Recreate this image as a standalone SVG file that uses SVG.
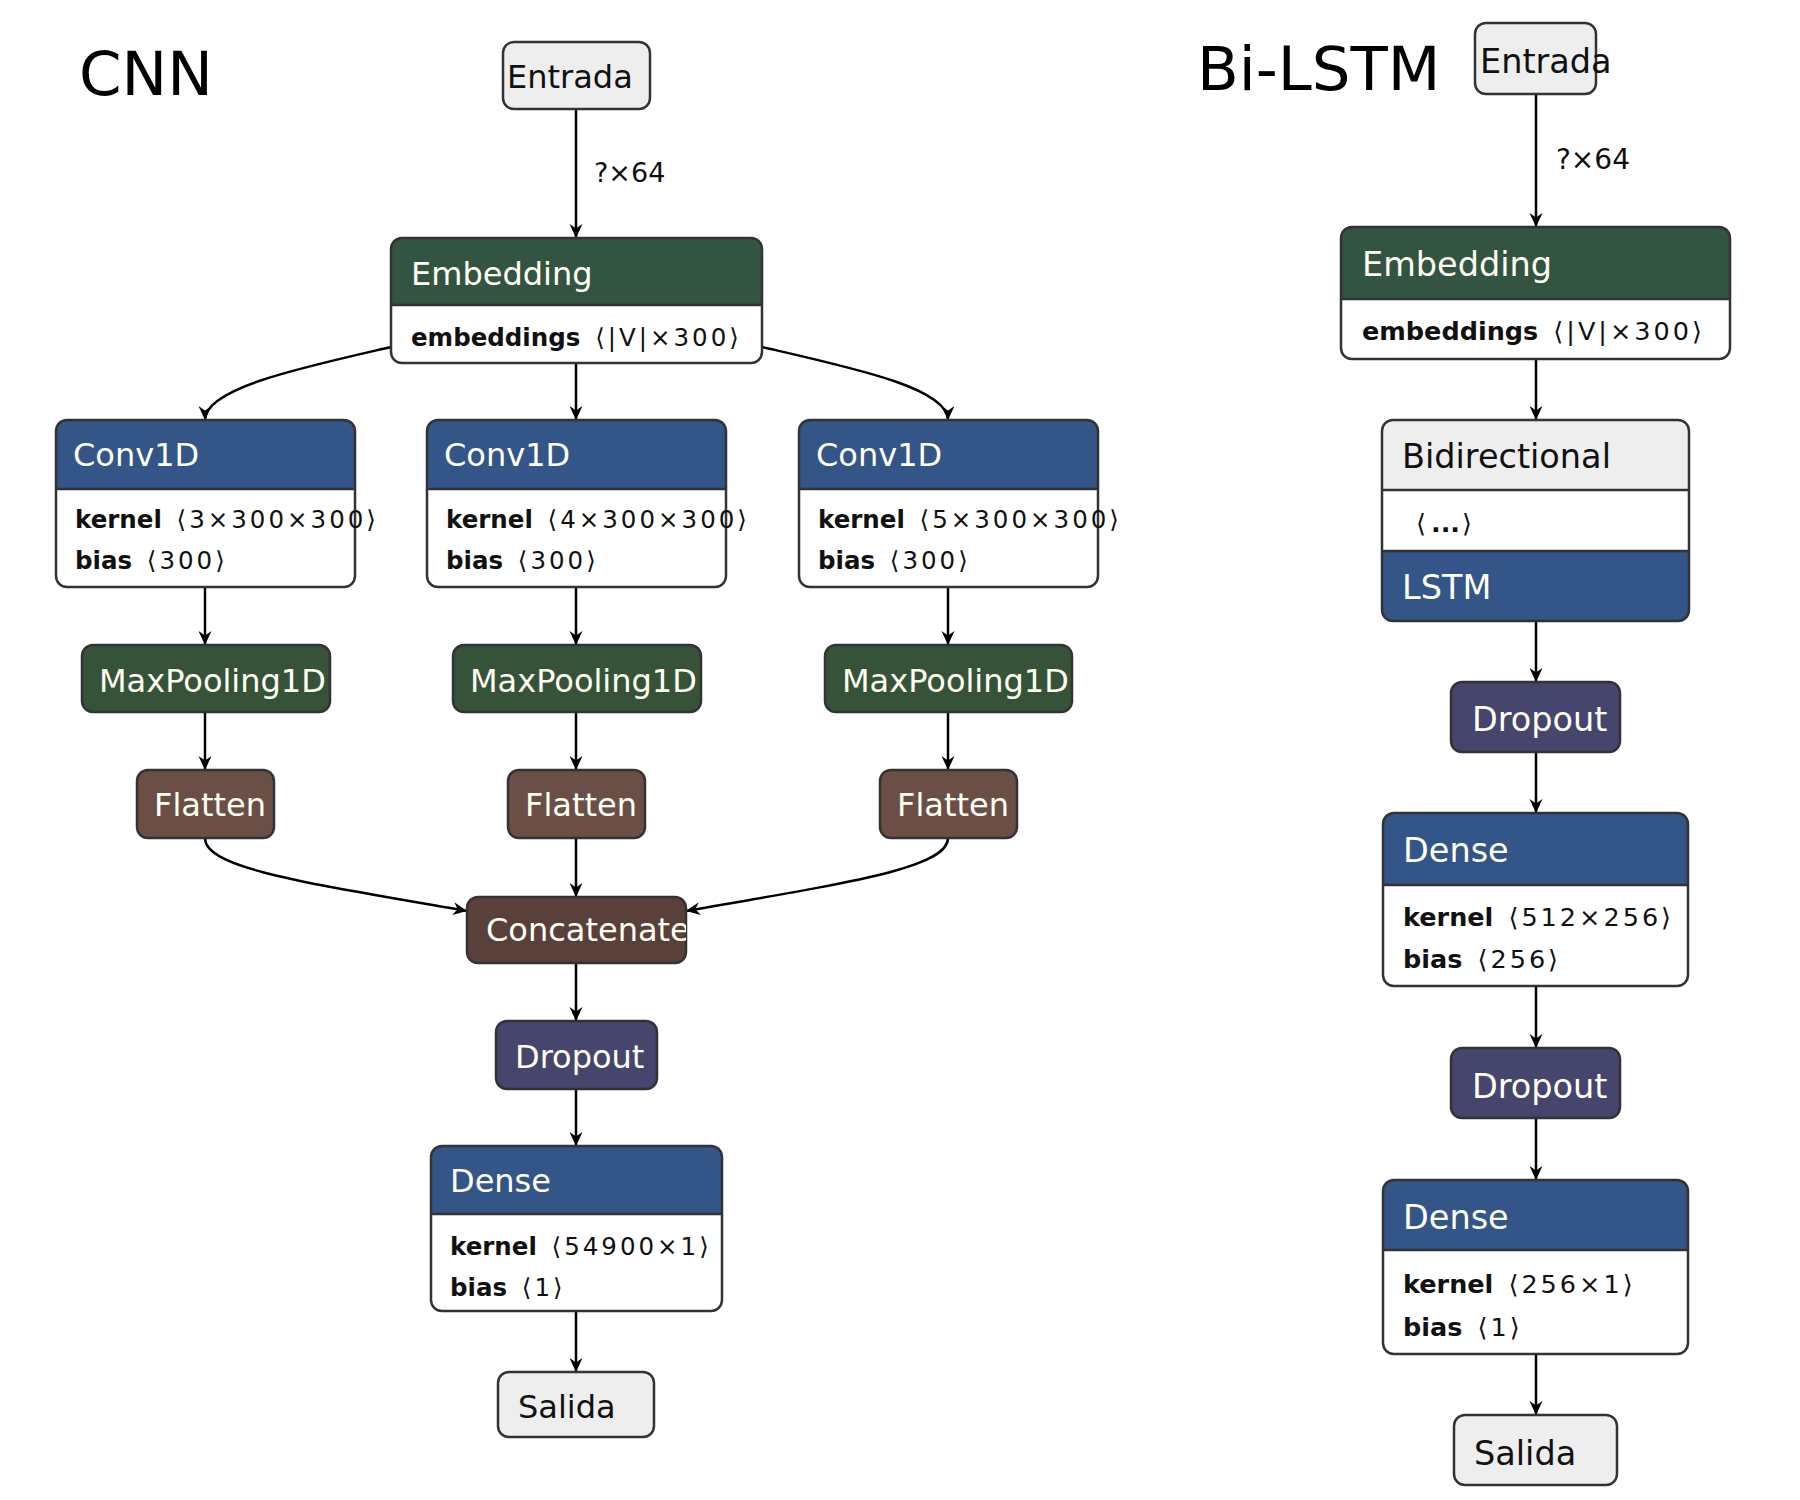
<svg xmlns="http://www.w3.org/2000/svg" width="1800" height="1500" viewBox="0 0 1800 1500">
<style>
text{font-family:"DejaVu Sans","Liberation Sans",sans-serif;}
.title{font-size:61px;fill:#000;}
.lbl{font-size:32px;fill:#fffff4;}
.lblR{font-size:33.5px;fill:#fffff4;}
.dark{fill:#111;}
.attr{font-size:24.5px;fill:#111;}
.attrR{font-size:25.5px;fill:#111;}
.b{font-weight:bold;letter-spacing:0;}
.sp{letter-spacing:3px;}
.edge{font-size:27px;fill:#111;}
.box{stroke:#333;stroke-width:2.5;}
.outline{fill:none;stroke:#333;stroke-width:2.5;}
.div{stroke:#333;stroke-width:2.5;}
.gray{fill:#eeeeee;}
.green{fill:#335440;}
.pool{fill:#36533a;}
.blue{fill:#335587;}
.brown{fill:#6b4f47;}
.cat{fill:#5a403a;}
.drop{fill:#45456d;}
.conn path,.conn line{stroke:#000;stroke-width:2.5;fill:none;marker-end:url(#vee);}
</style>
<defs>
<marker id="vee" markerWidth="16" markerHeight="16" refX="14" refY="8" orient="auto" markerUnits="userSpaceOnUse">
<path d="M0,1.5 L14,8 L0,14.5 L4.5,8 Z" fill="#000"/>
</marker>
<clipPath id="catclip"><rect x="467" y="897" width="219" height="66" rx="11"/></clipPath>
</defs>
<rect width="1800" height="1500" fill="#fff"/>

<text class="title" x="79" y="95">CNN</text>
<text class="title" x="1197" y="90">Bi-LSTM</text>

<g class="conn">
<line x1="576" y1="109" x2="576" y2="238"/>
<path d="M391,347 C300,368 205,388 205,420"/>
<line x1="576" y1="363" x2="576" y2="420"/>
<path d="M762,347 C853,368 948,388 948,420"/>
<line x1="205" y1="587" x2="205" y2="645"/>
<line x1="576" y1="587" x2="576" y2="645"/>
<line x1="948" y1="587" x2="948" y2="645"/>
<line x1="205" y1="712" x2="205" y2="770"/>
<line x1="576" y1="712" x2="576" y2="770"/>
<line x1="948" y1="712" x2="948" y2="770"/>
<path d="M205,838 C205,868 300,882 467,911"/>
<line x1="576" y1="838" x2="576" y2="897"/>
<path d="M948,838 C948,868 852,882 686,911"/>
<line x1="576" y1="963" x2="576" y2="1021"/>
<line x1="576" y1="1089" x2="576" y2="1146"/>
<line x1="576" y1="1311" x2="576" y2="1372"/>
<line x1="1536" y1="94" x2="1536" y2="227"/>
<line x1="1536" y1="359" x2="1536" y2="420"/>
<line x1="1536" y1="621" x2="1536" y2="682"/>
<line x1="1536" y1="752" x2="1536" y2="813"/>
<line x1="1536" y1="986" x2="1536" y2="1048"/>
<line x1="1536" y1="1118" x2="1536" y2="1180"/>
<line x1="1536" y1="1354" x2="1536" y2="1415"/>
</g>
<text class="edge" x="594" y="182">?×64</text>
<text class="edge" x="1556" y="169" style="font-size:28px">?×64</text>

<!-- CNN nodes -->
<g id="cnn-entrada">
<rect class="box gray" x="503" y="42" width="147" height="67" rx="11"/>
<text class="lbl dark" x="507" y="88">Entrada</text>
</g>
<g id="cnn-embedding">
<rect x="391" y="238" width="371" height="125" rx="11" fill="#fff"/>
<path class="green" d="M391,305 L391,249 Q391,238 402,238 L751,238 Q762,238 762,249 L762,305 Z"/>
<line class="div" x1="391" y1="305" x2="762" y2="305"/>
<rect class="outline" x="391" y="238" width="371" height="125" rx="11"/>
<text class="lbl" x="411" y="285">Embedding</text>
<text class="attr" x="411" y="346"><tspan class="b">embeddings</tspan><tspan class="sp" dx="4"> ⟨|V|×300⟩</tspan></text>
</g>
<g id="cnn-conv1">
<rect x="56" y="420" width="299" height="167" rx="11" fill="#fff"/>
<path class="blue" d="M56,489 L56,431 Q56,420 67,420 L344,420 Q355,420 355,431 L355,489 Z"/>
<line class="div" x1="56" y1="489" x2="355" y2="489"/>
<rect class="outline" x="56" y="420" width="299" height="167" rx="11"/>
<text class="lbl" x="73" y="466">Conv1D</text>
<text class="attr" x="75" y="528"><tspan class="b">kernel</tspan><tspan class="sp" dx="4"> ⟨3×300×300⟩</tspan></text>
<text class="attr" x="75" y="569"><tspan class="b">bias</tspan><tspan class="sp" dx="4"> ⟨300⟩</tspan></text>
</g>
<g id="cnn-conv2">
<rect x="427" y="420" width="299" height="167" rx="11" fill="#fff"/>
<path class="blue" d="M427,489 L427,431 Q427,420 438,420 L715,420 Q726,420 726,431 L726,489 Z"/>
<line class="div" x1="427" y1="489" x2="726" y2="489"/>
<rect class="outline" x="427" y="420" width="299" height="167" rx="11"/>
<text class="lbl" x="444" y="466">Conv1D</text>
<text class="attr" x="446" y="528"><tspan class="b">kernel</tspan><tspan class="sp" dx="4"> ⟨4×300×300⟩</tspan></text>
<text class="attr" x="446" y="569"><tspan class="b">bias</tspan><tspan class="sp" dx="4"> ⟨300⟩</tspan></text>
</g>
<g id="cnn-conv3">
<rect x="799" y="420" width="299" height="167" rx="11" fill="#fff"/>
<path class="blue" d="M799,489 L799,431 Q799,420 810,420 L1087,420 Q1098,420 1098,431 L1098,489 Z"/>
<line class="div" x1="799" y1="489" x2="1098" y2="489"/>
<rect class="outline" x="799" y="420" width="299" height="167" rx="11"/>
<text class="lbl" x="816" y="466">Conv1D</text>
<text class="attr" x="818" y="528"><tspan class="b">kernel</tspan><tspan class="sp" dx="4"> ⟨5×300×300⟩</tspan></text>
<text class="attr" x="818" y="569"><tspan class="b">bias</tspan><tspan class="sp" dx="4"> ⟨300⟩</tspan></text>
</g>
<g id="cnn-pool1">
<rect class="box pool" x="82" y="645" width="248" height="67" rx="11"/>
<text class="lbl" x="99" y="692">MaxPooling1D</text>
</g>
<g id="cnn-pool2">
<rect class="box pool" x="453" y="645" width="248" height="67" rx="11"/>
<text class="lbl" x="470" y="692">MaxPooling1D</text>
</g>
<g id="cnn-pool3">
<rect class="box pool" x="825" y="645" width="247" height="67" rx="11"/>
<text class="lbl" x="842" y="692">MaxPooling1D</text>
</g>
<g id="cnn-flat1">
<rect class="box brown" x="137" y="770" width="137" height="68" rx="11"/>
<text class="lbl" x="154" y="816">Flatten</text>
</g>
<g id="cnn-flat2">
<rect class="box brown" x="508" y="770" width="137" height="68" rx="11"/>
<text class="lbl" x="525" y="816">Flatten</text>
</g>
<g id="cnn-flat3">
<rect class="box brown" x="880" y="770" width="137" height="68" rx="11"/>
<text class="lbl" x="897" y="816">Flatten</text>
</g>
<g id="cnn-concat">
<rect class="box cat" x="467" y="897" width="219" height="66" rx="11"/>
<text class="lbl" x="486" y="941" clip-path="url(#catclip)">Concatenate</text>
</g>
<g id="cnn-dropout">
<rect class="box drop" x="496" y="1021" width="161" height="68" rx="11"/>
<text class="lbl" x="515" y="1068">Dropout</text>
</g>
<g id="cnn-dense">
<rect x="431" y="1146" width="291" height="165" rx="11" fill="#fff"/>
<path class="blue" d="M431,1214 L431,1157 Q431,1146 442,1146 L711,1146 Q722,1146 722,1157 L722,1214 Z"/>
<line class="div" x1="431" y1="1214" x2="722" y2="1214"/>
<rect class="outline" x="431" y="1146" width="291" height="165" rx="11"/>
<text class="lbl" x="450" y="1192">Dense</text>
<text class="attr" x="450" y="1255"><tspan class="b">kernel</tspan><tspan class="sp" dx="4"> ⟨54900×1⟩</tspan></text>
<text class="attr" x="450" y="1296"><tspan class="b">bias</tspan><tspan class="sp" dx="4"> ⟨1⟩</tspan></text>
</g>
<g id="cnn-salida">
<rect class="box gray" x="498" y="1372" width="156" height="65" rx="11"/>
<text class="lbl dark" x="518" y="1418">Salida</text>
</g>

<!-- Bi-LSTM nodes -->
<g id="bl-entrada">
<rect class="box gray" x="1475" y="23" width="121" height="71" rx="11"/>
<text class="lblR dark" x="1480" y="73">Entrada</text>
</g>
<g id="bl-embedding">
<rect x="1341" y="227" width="389" height="132" rx="11" fill="#fff"/>
<path class="green" d="M1341,299 L1341,238 Q1341,227 1352,227 L1719,227 Q1730,227 1730,238 L1730,299 Z"/>
<line class="div" x1="1341" y1="299" x2="1730" y2="299"/>
<rect class="outline" x="1341" y="227" width="389" height="132" rx="11"/>
<text class="lblR" x="1362" y="276">Embedding</text>
<text class="attrR" x="1362" y="340"><tspan class="b">embeddings</tspan><tspan class="sp" dx="4"> ⟨|V|×300⟩</tspan></text>
</g>
<g id="bl-bidirectional">
<rect x="1382" y="420" width="307" height="201" rx="11" fill="#fff"/>
<path class="gray" d="M1382,490 L1382,431 Q1382,420 1393,420 L1678,420 Q1689,420 1689,431 L1689,490 Z"/>
<path class="blue" d="M1382,551 L1689,551 L1689,610 Q1689,621 1678,621 L1393,621 Q1382,621 1382,610 Z"/>
<line class="div" x1="1382" y1="490" x2="1689" y2="490"/>
<line class="div" x1="1382" y1="551" x2="1689" y2="551"/>
<rect class="outline" x="1382" y="420" width="307" height="201" rx="11"/>
<text class="lblR dark" x="1402" y="468">Bidirectional</text>
<text class="attrR" x="1416" y="532"><tspan class="sp">⟨</tspan><tspan class="b" dx="2">...</tspan><tspan dx="2">⟩</tspan></text>
<text class="lblR" x="1402" y="599">LSTM</text>
</g>
<g id="bl-dropout1">
<rect class="box drop" x="1451" y="682" width="169" height="70" rx="11"/>
<text class="lblR" x="1472" y="731">Dropout</text>
</g>
<g id="bl-dense1">
<rect x="1383" y="813" width="305" height="173" rx="11" fill="#fff"/>
<path class="blue" d="M1383,885 L1383,824 Q1383,813 1394,813 L1677,813 Q1688,813 1688,824 L1688,885 Z"/>
<line class="div" x1="1383" y1="885" x2="1688" y2="885"/>
<rect class="outline" x="1383" y="813" width="305" height="173" rx="11"/>
<text class="lblR" x="1403" y="862">Dense</text>
<text class="attrR" x="1403" y="926"><tspan class="b">kernel</tspan><tspan class="sp" dx="4"> ⟨512×256⟩</tspan></text>
<text class="attrR" x="1403" y="968"><tspan class="b">bias</tspan><tspan class="sp" dx="4"> ⟨256⟩</tspan></text>
</g>
<g id="bl-dropout2">
<rect class="box drop" x="1451" y="1048" width="169" height="70" rx="11"/>
<text class="lblR" x="1472" y="1098">Dropout</text>
</g>
<g id="bl-dense2">
<rect x="1383" y="1180" width="305" height="174" rx="11" fill="#fff"/>
<path class="blue" d="M1383,1250 L1383,1191 Q1383,1180 1394,1180 L1677,1180 Q1688,1180 1688,1191 L1688,1250 Z"/>
<line class="div" x1="1383" y1="1250" x2="1688" y2="1250"/>
<rect class="outline" x="1383" y="1180" width="305" height="174" rx="11"/>
<text class="lblR" x="1403" y="1229">Dense</text>
<text class="attrR" x="1403" y="1293"><tspan class="b">kernel</tspan><tspan class="sp" dx="4"> ⟨256×1⟩</tspan></text>
<text class="attrR" x="1403" y="1336"><tspan class="b">bias</tspan><tspan class="sp" dx="4"> ⟨1⟩</tspan></text>
</g>
<g id="bl-salida">
<rect class="box gray" x="1454" y="1415" width="163" height="70" rx="11"/>
<text class="lblR dark" x="1474" y="1465">Salida</text>
</g>
</svg>
